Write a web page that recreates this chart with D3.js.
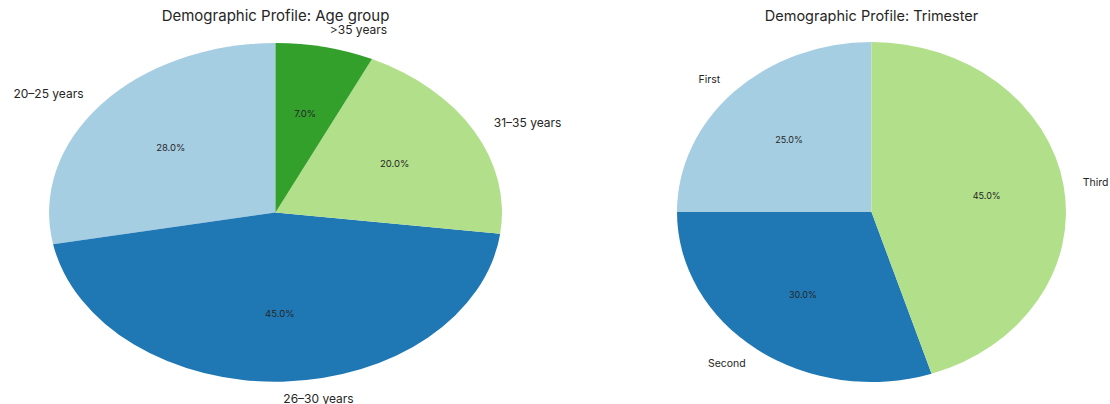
<!DOCTYPE html>
<html><head><meta charset="utf-8">
<script src="https://cdn.jsdelivr.net/npm/d3@7"></script>
<style>body{margin:0;background:#fff}svg{display:block}text{font-family:Inter,"Open Sans",sans-serif;fill:#262626}</style>
</head><body><svg id="c" width="1110" height="404"></svg>
<script>
const ageLabels = ["20–25 years","26–30 years","31–35 years",">35 years"];
const ageValues = [28,45,20,7];
const ageColors = ["#a6cee3","#1f78b4","#b2df8a","#33a02c"];
const triLabels = ["First","Second","Third"];
const triValues = [25,30,45];
const triColors = ["#a6cee3","#1f78b4","#b2df8a"];

const svg = d3.select("#c");
function drawPie(title, labels, values, colors, cx, cy, rx, ry, titleY, titleSize, labelSize, pctSize){
  const g = svg.append("g").attr("transform",`translate(${cx},${cy})`);
  const pie = d3.pie().sort(null).startAngle(0).endAngle(-2*Math.PI);
  const arcs = pie(values);
  const arc = d3.arc().innerRadius(0).outerRadius(1);
  g.append("g").attr("transform",`scale(${rx},${ry})`).selectAll("path").data(arcs).join("path")
    .attr("d",arc).attr("fill",(d,i)=>colors[i]);
  arcs.forEach((d,i)=>{
    const m = (d.startAngle+d.endAngle)/2; // d3 angle, clockwise from top
    const ux = Math.sin(m), uy = -Math.cos(m);
    g.append("text").attr("x",ux*1.1*rx).attr("y",uy*1.1*ry).attr("dy","0.32em")
      .attr("text-anchor", ux>0?"start":"end").attr("font-size",labelSize).text(labels[i]);
    g.append("text").attr("x",ux*0.6*rx).attr("y",uy*0.6*ry).attr("dy","0.35em")
      .attr("text-anchor","middle").attr("font-size",pctSize).text(d3.format(".1f")(values[i])+"%");
  });
  svg.append("text").attr("x",cx).attr("y",titleY).attr("text-anchor","middle").attr("font-size",titleSize).text(title);
}
drawPie("Demographic Profile: Age group", ageLabels, ageValues, ageColors, 275.5, 212.5, 226.5, 169.5, 21, 15, 12, 9.5);
drawPie("Demographic Profile: Trimester", triLabels, triValues, triColors, 871.5, 212, 194.5, 170, 21, 14.5, 10.5, 9);
</script></body></html>
